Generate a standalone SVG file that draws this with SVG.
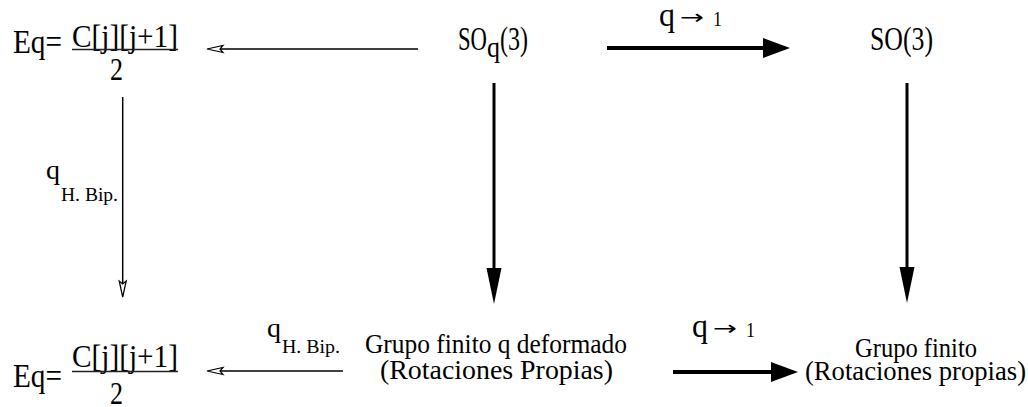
<svg xmlns="http://www.w3.org/2000/svg" width="1028" height="407" viewBox="0 0 1028 407" font-family="'Liberation Serif', 'Times New Roman', Times, 'DejaVu Serif', serif">
  <style>
    text { font-family: 'Liberation Serif', 'Times New Roman', Times, 'DejaVu Serif', serif; fill: #000; }
    text.arr { font-family: 'DejaVu Sans', 'Liberation Sans', sans-serif; }
    .thin { stroke: #000; stroke-width: 1.5; fill: none; }
    .thick { stroke: #000; stroke-width: 4; fill: none; }
    .vert { stroke: #000; stroke-width: 3; fill: none; }
    .bar { stroke: #222; stroke-width: 1.3; }
  </style>
  <defs>
    <marker id="openHead" markerUnits="userSpaceOnUse" markerWidth="18" markerHeight="9" refX="3" refY="4" orient="auto" overflow="visible">
      <path d="M0,0.5 L16,4 L0,7.5 L3,4 Z" fill="#fff" stroke="#000" stroke-width="1.2" stroke-linejoin="miter"/>
    </marker>
    <marker id="solidHead" markerUnits="userSpaceOnUse" markerWidth="28" markerHeight="20" refX="2" refY="10" orient="auto" overflow="visible">
      <path d="M0,0 L27,10 L0,20 Z" fill="#000"/>
    </marker>
    <marker id="longHead" markerUnits="userSpaceOnUse" markerWidth="37" markerHeight="16" refX="2" refY="7.5" orient="auto" overflow="visible">
      <path d="M0,0 L36,7.5 L0,15 Z" fill="#000"/>
    </marker>
  </defs>
  <rect width="1028" height="407" fill="#fff"/>

  <g id="connectors">
    <line class="thin" x1="418" y1="49" x2="220" y2="49" marker-end="url(#openHead)"/>
    <line class="thick" x1="607" y1="48" x2="765" y2="48" marker-end="url(#solidHead)"/>
    <line class="thin" x1="122.7" y1="97" x2="122.7" y2="284" marker-end="url(#openHead)"/>
    <line class="vert" x1="494" y1="83" x2="494" y2="270" marker-end="url(#longHead)"/>
    <line class="vert" x1="907" y1="83" x2="907" y2="269" marker-end="url(#longHead)"/>
    <line class="thin" x1="343" y1="371" x2="220" y2="371" marker-end="url(#openHead)"/>
    <line class="thick" x1="673" y1="372" x2="773" y2="372" marker-end="url(#solidHead)"/>
  </g>

  <g id="connector-labels">
    <text x="659" y="26" font-size="34" textLength="16" lengthAdjust="spacingAndGlyphs">q</text>
    <text class="arr" x="680" y="24" font-size="20" textLength="24" lengthAdjust="spacingAndGlyphs">→</text>
    <text x="713" y="26" font-size="21" textLength="9" lengthAdjust="spacingAndGlyphs">1</text>

    <text x="46" y="179" font-size="28" textLength="14" lengthAdjust="spacingAndGlyphs">q</text>
    <text x="61" y="201" font-size="19.5" textLength="57" lengthAdjust="spacingAndGlyphs">H. Bip.</text>

    <text x="267" y="337" font-size="28" textLength="14" lengthAdjust="spacingAndGlyphs">q</text>
    <text x="282" y="353" font-size="19.5" textLength="58" lengthAdjust="spacingAndGlyphs">H. Bip.</text>

    <text x="692" y="337" font-size="34" textLength="16" lengthAdjust="spacingAndGlyphs">q</text>
    <text class="arr" x="713" y="335" font-size="20" textLength="24" lengthAdjust="spacingAndGlyphs">→</text>
    <text x="746" y="337" font-size="21" textLength="9" lengthAdjust="spacingAndGlyphs">1</text>
  </g>

  <g id="node-eq-top">
    <text x="13" y="53" font-size="34" textLength="49" lengthAdjust="spacingAndGlyphs">Eq=</text>
    <text x="72" y="47" font-size="32" textLength="106" lengthAdjust="spacingAndGlyphs">C[j][j+1]</text>
    <line class="bar" x1="72" y1="49.5" x2="178" y2="49.5"/>
    <text x="110" y="80" font-size="32" textLength="13" lengthAdjust="spacingAndGlyphs">2</text>
  </g>

  <g id="node-soq3">
    <text x="458" y="50" font-size="34" textLength="29" lengthAdjust="spacingAndGlyphs">SO</text>
    <text x="487" y="57" font-size="30" textLength="13" lengthAdjust="spacingAndGlyphs">q</text>
    <text x="500" y="50" font-size="34" textLength="28" lengthAdjust="spacingAndGlyphs">(3)</text>
  </g>

  <g id="node-so3">
    <text x="870" y="50" font-size="34" textLength="63" lengthAdjust="spacingAndGlyphs">SO(3)</text>
  </g>

  <g id="node-eq-bottom">
    <text x="13" y="387" font-size="34" textLength="49" lengthAdjust="spacingAndGlyphs">Eq=</text>
    <text x="72" y="367" font-size="32" textLength="106" lengthAdjust="spacingAndGlyphs">C[j][j+1]</text>
    <line class="bar" x1="72" y1="371.5" x2="178" y2="371.5"/>
    <text x="110" y="404" font-size="32" textLength="13" lengthAdjust="spacingAndGlyphs">2</text>
  </g>

  <g id="node-grupo-q">
    <text x="365" y="353" font-size="28" textLength="262" lengthAdjust="spacingAndGlyphs">Grupo finito q deformado</text>
    <text x="380" y="379" font-size="28" textLength="233" lengthAdjust="spacingAndGlyphs">(Rotaciones Propias)</text>
  </g>

  <g id="node-grupo">
    <text x="916" y="357" font-size="28" text-anchor="middle" textLength="122" lengthAdjust="spacingAndGlyphs">Grupo finito</text>
    <text x="805" y="380" font-size="28" textLength="221" lengthAdjust="spacingAndGlyphs">(Rotaciones propias)</text>
  </g>
</svg>
